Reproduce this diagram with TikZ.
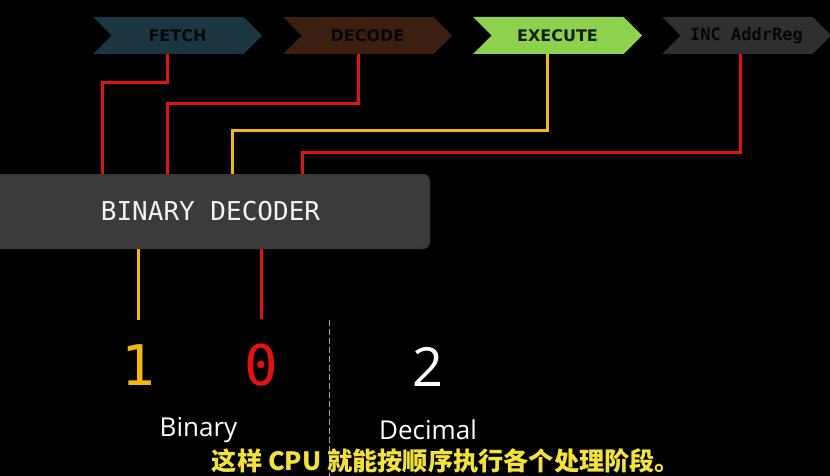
\documentclass[tikz,border=0pt]{standalone}
\usepackage{fontspec}
\newfontfamily\cjk{Noto Sans CJK SC}
\newfontfamily\monofont{DejaVu Sans Mono}
\newfontfamily\stagefont{DejaVu Sans}
\newfontfamily\plainfont{Open Sans}
\usetikzlibrary{shapes.symbols}

\definecolor{fetchcol}{HTML}{1C3641}
\definecolor{decodecol}{HTML}{3B2012}
\definecolor{executecol}{HTML}{8ED14F}
\definecolor{inccol}{HTML}{2F2F2F}
\definecolor{wirered}{HTML}{E3120F}
\definecolor{wireyellow}{HTML}{F6B70D}
\definecolor{boxfill}{HTML}{3B3B3B}
\definecolor{subyellow}{HTML}{F3E23C}

\begin{document}
\begin{tikzpicture}[x=0.5pt,y=-0.5pt,
	stage/.style={signal, signal from=west, signal to=east, signal pointer angle=90,
		minimum width=84.5pt, minimum height=18.5pt, inner sep=0pt,
		font=\stagefont\bfseries\fontsize{8}{8}\selectfont},
	wire/.style={line width=1.5pt},
	digit/.style={anchor=base, inner sep=0pt, font=\monofont\fontsize{28}{28}\selectfont}]
				\clip (0,0) rectangle (830,476);
				\fill [black] (0,0) rectangle (830,476);
				% pipeline stages
				\node (fetch) [stage, fill=fetchcol, text=black!85!fetchcol] at (177.5,35.5) {FETCH};
				\node (decode) [stage, fill=decodecol, text=black!85!decodecol] at (367.5,35.5) {DECODE};
				\node (execute) [stage, fill=executecol, text=black!85!executecol] at (557.5,35.5) {EXECUTE};
				\node (inc) [stage, fill=inccol, text=black!85!inccol, font=\monofont\bfseries\fontsize{8.5}{8.5}\selectfont] at (746.5,35.5) {INC AddrReg};
				\node (decoder) [rounded corners=3pt, fill=boxfill, draw=gray!45!black, line width=1pt,
					minimum width=218.5pt, minimum height=36.5pt, text=gray!10,
					font=\monofont\fontsize{13}{13}\selectfont] at (210.5,211.5) {BINARY DECODER};
				\draw [wire, wirered] ([xshift=-5pt]fetch.south) -- ++(0,28) -| ([xshift=-54.25pt]decoder.north);
				\draw [wire, wirered] ([xshift=-4.75pt]decode.south) -- ++(0,49) -| ([xshift=-21.75pt]decoder.north);
				\draw [wire, wireyellow] ([xshift=-5.25pt]execute.south) -- ++(0,76) -| ([xshift=10.75pt]decoder.north);
				\draw [wire, wirered] ([xshift=-3.25pt]inc.south) -- ++(0,98) -| ([xshift=45.75pt]decoder.north);
				% outputs
				\node (one) [digit, text=wireyellow] at (138,385) {1};
				\node (zero) [digit, text=wirered] at (261,385) {0};
				\node (two) [anchor=base, inner sep=0pt, text=white, font=\plainfont\fontsize{27}{27}\selectfont] at (428,386) {2};
				\draw [wire, wireyellow, shorten >=12pt] (decoder.south -| one) -- (one.north);
				\draw [wire, wirered, shorten >=12pt] (decoder.south -| zero) -- (zero.north);
				\draw [gray!70, line width=0.5pt, dash pattern=on 3pt off 1.5pt] (329,320) -- (329,476);
				\node (binary) [anchor=base, inner sep=0pt, text=white, font=\plainfont\fontsize{13}{13}\selectfont] at (198.5,436) {Binary};
				\node (decimal) [anchor=base, inner sep=0pt, text=white, font=\plainfont\fontsize{13}{13}\selectfont] at (428,439) {Decimal};
				\node (caption) [text=subyellow, font=\cjk\bfseries\fontsize{12.6}{12.6}\selectfont] at (446,461) {这样 CPU 就能按顺序执行各个处理阶段。};
\end{tikzpicture}
\end{document}
